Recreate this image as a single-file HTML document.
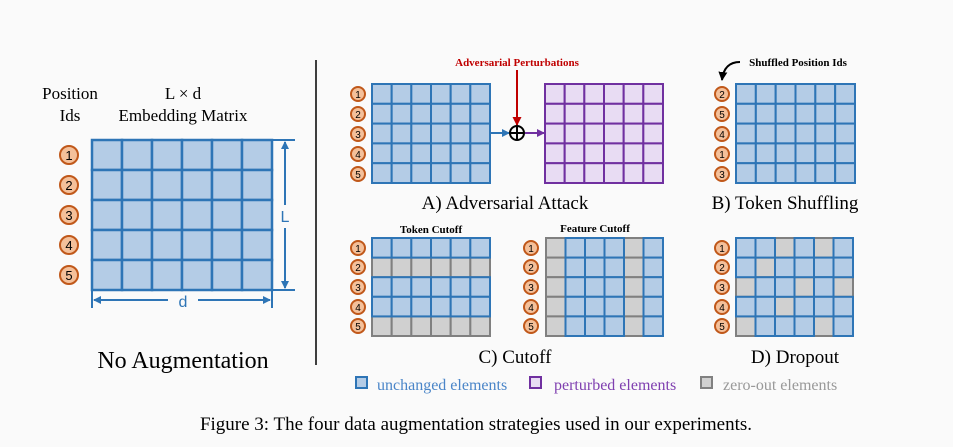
<!DOCTYPE html>
<html><head><meta charset="utf-8"><style>
html,body{margin:0;padding:0;background:#fafafa;}
svg{display:block}
.s{font-family:"Liberation Serif",serif;}
</style></head><body>
<svg id="g" width="953" height="447" viewBox="0 0 953 447" xmlns="http://www.w3.org/2000/svg">
<defs>
<marker id="ab" markerWidth="8" markerHeight="8" refX="7" refY="4" orient="auto" markerUnits="userSpaceOnUse"><path d="M0,0 L8,4 L0,8z" fill="#2e75b6"/></marker>
<marker id="ap" markerWidth="8" markerHeight="8" refX="7" refY="4" orient="auto" markerUnits="userSpaceOnUse"><path d="M0,0 L8,4 L0,8z" fill="#7030a0"/></marker>
<marker id="ar" markerWidth="9" markerHeight="9" refX="8" refY="4.5" orient="auto" markerUnits="userSpaceOnUse"><path d="M0,0 L9,4.5 L0,9z" fill="#c00000"/></marker>
<marker id="ak" markerWidth="9" markerHeight="9" refX="8" refY="4.5" orient="auto" markerUnits="userSpaceOnUse"><path d="M0,0 L9,4.5 L0,9z" fill="#000"/></marker>
</defs>
<g id="grids"></g>
<g class="s" font-size="17" text-anchor="middle" fill="#000">
<text x="70" y="99">Position</text><text x="70" y="121">Ids</text>
<text x="183" y="99">L × d</text><text x="183" y="121">Embedding Matrix</text>
<text x="183" y="368" font-size="24">No Augmentation</text>
<text x="505" y="209" font-size="19">A) Adversarial Attack</text>
<text x="785" y="209" font-size="19">B) Token Shuffling</text>
<text x="515" y="363" font-size="19">C) Cutoff</text>
<text x="795" y="363" font-size="19">D) Dropout</text>
<text x="476" y="430" font-size="19">Figure 3: The four data augmentation strategies used in our experiments.</text>
</g>
<g class="s" font-weight="bold" font-size="11" text-anchor="middle">
<text x="517" y="66" fill="#c00000">Adversarial Perturbations</text>
<text x="798" y="66" fill="#000" text-anchor="middle">Shuffled Position Ids</text>
<text x="431" y="233" fill="#000">Token Cutoff</text>
<text x="595" y="232" fill="#000">Feature Cutoff</text>
</g>
<line x1="316" y1="60" x2="316" y2="365" stroke="#000" stroke-width="1.5"/>
<line x1="272" y1="140" x2="295" y2="140" stroke="#2e75b6" stroke-width="2"/>
<line x1="272" y1="290" x2="295" y2="290" stroke="#2e75b6" stroke-width="2"/>
<line x1="285" y1="205" x2="285" y2="142" stroke="#2e75b6" stroke-width="2" marker-end="url(#ab)"/>
<line x1="285" y1="228" x2="285" y2="288" stroke="#2e75b6" stroke-width="2" marker-end="url(#ab)"/>
<text x="285" y="222" font-family="Liberation Sans,sans-serif" font-size="16" fill="#2e75b6" text-anchor="middle">L</text>
<line x1="92" y1="290" x2="92" y2="308" stroke="#2e75b6" stroke-width="2"/>
<line x1="272" y1="290" x2="272" y2="308" stroke="#2e75b6" stroke-width="2"/>
<line x1="168" y1="300" x2="94" y2="300" stroke="#2e75b6" stroke-width="2" marker-end="url(#ab)"/>
<line x1="198" y1="300" x2="270" y2="300" stroke="#2e75b6" stroke-width="2" marker-end="url(#ab)"/>
<text x="183" y="307" font-family="Liberation Sans,sans-serif" font-size="16" fill="#2e75b6" text-anchor="middle">d</text>
<line x1="517" y1="70" x2="517" y2="125" stroke="#c00000" stroke-width="2" marker-end="url(#ar)"/>
<line x1="490" y1="133" x2="509" y2="133" stroke="#2e75b6" stroke-width="2" marker-end="url(#ab)"/>
<line x1="525" y1="133" x2="544" y2="133" stroke="#7030a0" stroke-width="2" marker-end="url(#ap)"/>
<circle cx="517" cy="133" r="7" fill="none" stroke="#000" stroke-width="2"/>
<line x1="510" y1="133" x2="524" y2="133" stroke="#000" stroke-width="2"/>
<line x1="517" y1="126" x2="517" y2="140" stroke="#000" stroke-width="2"/>
<path d="M740,62 Q724,62 722,80" fill="none" stroke="#000" stroke-width="2" marker-end="url(#ak)"/>
<rect x="356" y="377" width="11" height="11" fill="#b4cce6" stroke="#2e75b6" stroke-width="2"/>
<rect x="530" y="377" width="11" height="11" fill="#e8dcf3" stroke="#7030a0" stroke-width="2"/>
<rect x="701" y="377" width="11" height="11" fill="#d0d0d0" stroke="#808080" stroke-width="2"/>
<g class="s" font-size="16">
<text x="377" y="390" fill="#4a85c8">unchanged elements</text>
<text x="554" y="390" fill="#7f3fb0">perturbed elements</text>
<text x="723" y="390" fill="#999">zero-out elements</text>
</g>
<g id="circ" font-family="Liberation Sans,sans-serif" text-anchor="middle" fill="#000">
<g font-size="13">
<circle cx="69" cy="155" r="9"/><text x="69" y="160">1</text>
<circle cx="69" cy="185" r="9"/><text x="69" y="190">2</text>
<circle cx="69" cy="215" r="9"/><text x="69" y="220">3</text>
<circle cx="69" cy="245" r="9"/><text x="69" y="250">4</text>
<circle cx="69" cy="275" r="9"/><text x="69" y="280">5</text>
</g>
<g font-size="10">
<circle cx="358" cy="94" r="7"/><text x="358" y="98">1</text>
<circle cx="358" cy="114" r="7"/><text x="358" y="118">2</text>
<circle cx="358" cy="134" r="7"/><text x="358" y="138">3</text>
<circle cx="358" cy="154" r="7"/><text x="358" y="158">4</text>
<circle cx="358" cy="174" r="7"/><text x="358" y="178">5</text>
<circle cx="722" cy="94" r="7"/><text x="722" y="98">2</text>
<circle cx="722" cy="114" r="7"/><text x="722" y="118">5</text>
<circle cx="722" cy="134" r="7"/><text x="722" y="138">4</text>
<circle cx="722" cy="154" r="7"/><text x="722" y="158">1</text>
<circle cx="722" cy="174" r="7"/><text x="722" y="178">3</text>
<circle cx="358" cy="248" r="7"/><text x="358" y="252">1</text>
<circle cx="358" cy="267" r="7"/><text x="358" y="271">2</text>
<circle cx="358" cy="287" r="7"/><text x="358" y="291">3</text>
<circle cx="358" cy="307" r="7"/><text x="358" y="311">4</text>
<circle cx="358" cy="326" r="7"/><text x="358" y="330">5</text>
<circle cx="531" cy="248" r="7"/><text x="531" y="252">1</text>
<circle cx="531" cy="267" r="7"/><text x="531" y="271">2</text>
<circle cx="531" cy="287" r="7"/><text x="531" y="291">3</text>
<circle cx="531" cy="307" r="7"/><text x="531" y="311">4</text>
<circle cx="531" cy="326" r="7"/><text x="531" y="330">5</text>
<circle cx="722" cy="248" r="7"/><text x="722" y="252">1</text>
<circle cx="722" cy="267" r="7"/><text x="722" y="271">2</text>
<circle cx="722" cy="287" r="7"/><text x="722" y="291">3</text>
<circle cx="722" cy="307" r="7"/><text x="722" y="311">4</text>
<circle cx="722" cy="326" r="7"/><text x="722" y="330">5</text>
</g>
</g>
</svg>
<style>#circ circle{fill:#f4c09a;stroke:#c0581a;stroke-width:2}</style>
<script>
var NS="http://www.w3.org/2000/svg",G=document.getElementById("grids");
var B=["#b4cce6","#2e75b6"],P=["#e8dcf3","#7030a0"],Z=["#d0d0d0","#808080"];
function grid(x,y,w,h,f,sw){var cw=w/6,ch=h/5;
 var list=[];
 for(var r=0;r<5;r++)for(var c=0;c<6;c++){list.push([r,c,f(r,c)]);}
 list.sort(function(a,b){return (a[2]===Z?0:1)-(b[2]===Z?0:1)});
 list.forEach(function(t){var e=document.createElementNS(NS,"rect");
 e.setAttribute("x",x+t[1]*cw);e.setAttribute("y",y+t[0]*ch);e.setAttribute("width",cw);e.setAttribute("height",ch);
 e.setAttribute("fill",t[2][0]);e.setAttribute("stroke",t[2][1]);e.setAttribute("stroke-width",sw);G.appendChild(e);});}
grid(92,140,180,150,function(){return B},2.5);
grid(372,84,118,99,function(){return B},2);
grid(545,84,118,99,function(){return P},2);
grid(736,84,119,99,function(){return B},2);
grid(372,238,118,98,function(r){return (r==1||r==4)?Z:B},2);
grid(546,238,117,98,function(r,c){return (c==0||c==4)?Z:B},2);
var D=["BBGBGB","BGBBBB","GBBGBG","BBGBBB","GBBBGB"];
grid(736,238,117,98,function(r,c){return D[r][c]=="G"?Z:B},2);
</script>
</body></html>
